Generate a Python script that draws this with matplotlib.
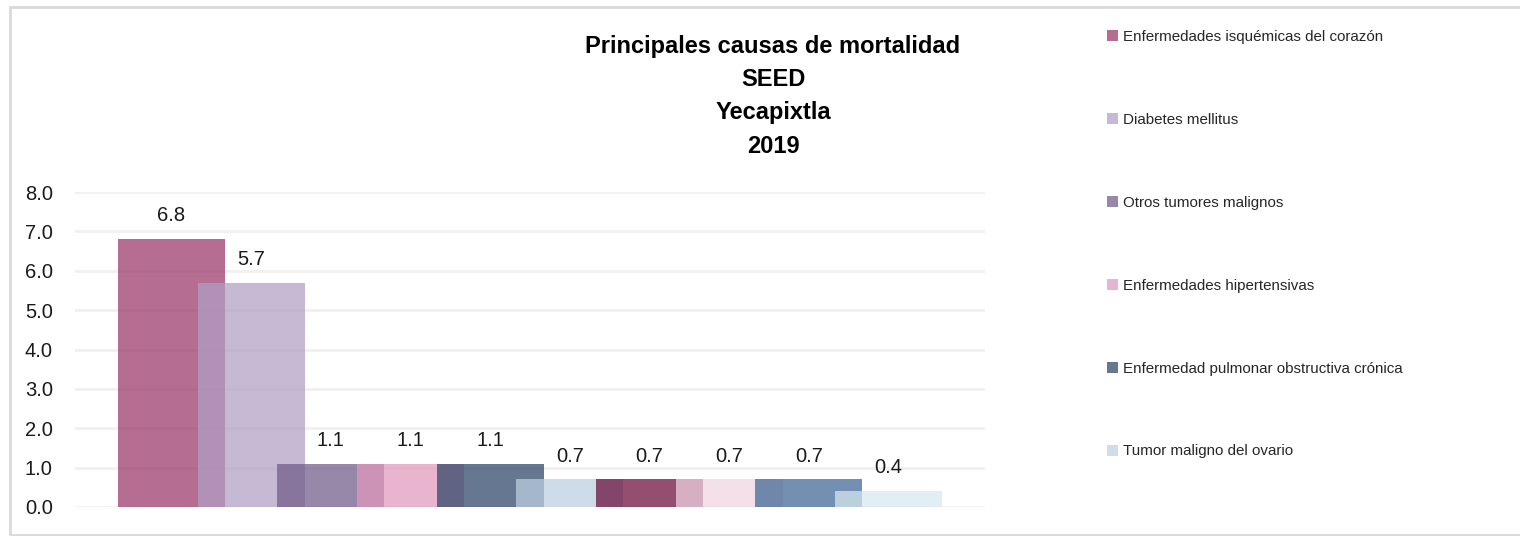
import numpy as np
import matplotlib.pyplot as plt
from matplotlib.patches import Rectangle, Patch

# tasas de mortalidad por causa
causas = [
    "Enfermedades isquémicas del corazón",
    "Diabetes mellitus",
    "Otros tumores malignos",
    "Enfermedades hipertensivas",
    "Enfermedad pulmonar obstructiva crónica",
    "Tumor maligno del ovario",
]
tasas = [6.8, 5.7, 1.1, 1.1, 1.1, 0.7, 0.7, 0.7, 0.7, 0.4]
titulo = ["Principales causas de mortalidad", "SEED", "Yecapixtla", "2019"]
yticks = [0, 1, 2, 3, 4, 5, 6, 7, 8]

# colores vistos sobre fondo blanco
colores = ["#b56e91", "#c6b9d5", "#9788a9", "#e9b4cf", "#667891",
           "#cfdcea", "#934e70", "#f4e0ea", "#7390b2", "#e2eff4"]
ALPHA = 0.73


def base_color(hexcol, a=ALPHA):
    rgb = np.array([int(hexcol[i:i + 2], 16) for i in (1, 3, 5)]) / 255.0
    c = (rgb - (1 - a)) / a
    return tuple(np.clip(c, 0, 1))


plt.rcParams["font.family"] = ["Liberation Sans", "DejaVu Sans"]

fig = plt.figure(figsize=(15.2, 5.36), dpi=100)
ax = fig.add_axes([75 / 1520, 29 / 536, 910 / 1520, 315 / 536])

x = np.arange(len(tasas))
ancho = 1.34
for i, (xi, v) in enumerate(zip(x, tasas)):
    ax.bar(xi, v, width=ancho, color=base_color(colores[i]), alpha=ALPHA,
           zorder=2 + i, linewidth=0)
    ax.text(xi, v + 0.35, f"{v:.1f}", ha="center", va="bottom", fontsize=14.5,
            color="#1a1a1a", zorder=20)

ax.set_xlim(-1.211, len(tasas) - 1 + 1.211)
ax.set_ylim(0, 8)
ax.set_yticks(yticks)
ax.set_yticklabels([f"{t:.1f}" for t in yticks], fontsize=14.5, color="#1a1a1a")
ax.tick_params(axis="y", length=0, pad=16)
ax.set_xticks([])
ax.grid(axis="y", color="#f0f0f0", linewidth=2, zorder=0)
for s in ax.spines.values():
    s.set_visible(False)

# titulo en cuatro lineas
for k, linea in enumerate(titulo):
    fig.text(773 / 1520, 1 - (46 + 33.5 * k) / 536, linea, ha="center", va="center",
             fontsize=17, fontweight="bold")

# leyenda (solo las primeras seis series)
handles = [Patch(facecolor=colores[i], edgecolor="none") for i in range(len(causas))]
leg = fig.legend(handles, causas, loc="upper left", bbox_to_anchor=(1107 / 1520, 1 - 30 / 536),
                 frameon=False, fontsize=10.9, handlelength=0.75, handleheight=0.75,
                 handletextpad=0.3, labelspacing=4.55, borderpad=0, borderaxespad=0)
for t in leg.get_texts():
    t.set_color("#262626")

# marco del grafico
fig.add_artist(Rectangle((10 / 1520, 1.5 / 536), 1.0, 1 - 8.5 / 536,
                         transform=fig.transFigure, fill=False,
                         edgecolor="#d9d9d9", linewidth=2))

fig.savefig("out.png", dpi=100)
